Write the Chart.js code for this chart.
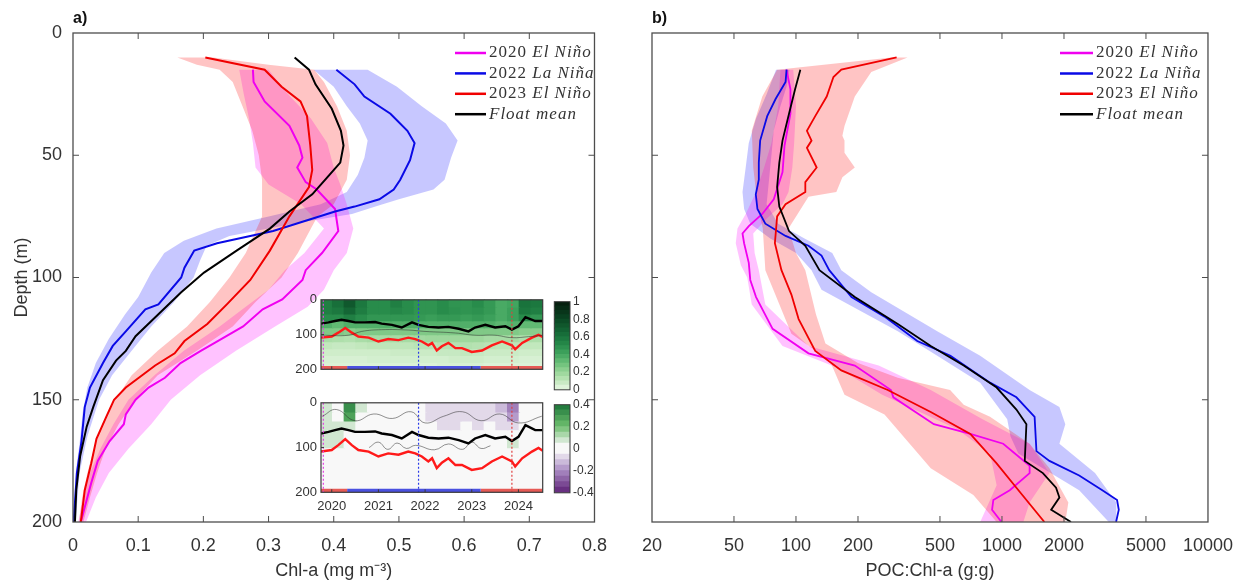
<!DOCTYPE html>
<html>
<head>
<meta charset="utf-8">
<title>Chl-a and POC:Chl-a profiles</title>
<script src="https://cdn.jsdelivr.net/npm/chart.js@4.4.1/dist/chart.umd.min.js"></script>
<style>
  body { margin: 0; background: #fff; }
  #wrap { position: relative; width: 1246px; height: 584px; overflow: hidden; background: #fff; }
  #wrap canvas { position: absolute; }
  .tag { position: absolute; font: bold 16px "Liberation Sans", Arial, sans-serif; color: #111; }
</style>
</head>
<body>
<div id="wrap">
  <canvas id="panelA" width="620" height="584" style="left:0;top:0"></canvas>
  <canvas id="panelB" width="626" height="584" style="left:620px;top:0"></canvas>
  <canvas id="chlMap" width="266" height="112" style="left:285px;top:288px"></canvas>
  <canvas id="anomMap" width="266" height="130" style="left:285px;top:391px"></canvas>
  <canvas id="chlBar" width="50" height="112" style="left:545px;top:288px"></canvas>
  <canvas id="anomBar" width="50" height="112" style="left:545px;top:391px"></canvas>
  <div class="tag" style="left:73px;top:9px">a)</div>
  <div class="tag" style="left:652px;top:9px">b)</div>
</div>
<script>
// ---- axes ----
const depthTicks = [0, 50, 100, 150, 200];
const chlTicks = [0, 0.1, 0.2, 0.3, 0.4, 0.5, 0.6, 0.7, 0.8];
const ratioTicks = [20, 50, 100, 200, 500, 1000, 2000, 5000, 10000];

// ---- legend ----
const legendYears = ['2020 ', '2022 ', '2023 ', ''];
const legendPhases = ['El Niño', 'La Niña', 'El Niño', 'Float mean'];
const seriesColors = ['#f000f0', '#0a0ae6', '#f00000', '#000000'];
const bandColors = ['rgba(255,0,255,0.24)', 'rgba(0,0,255,0.22)', 'rgba(255,0,0,0.23)'];

// ---- panel a: Chl-a profiles, [depth m, mg m-3] ----
const chl2020 = [[15,0.276],[20,0.277],[28,0.294],[38,0.332],[46,0.347],[51,0.352],[55,0.344],[61,0.357],[64,0.374],[72,0.402],[81,0.407],[90,0.382],[97,0.357],[101,0.352],[109,0.321],[113,0.291],[120,0.261],[126,0.222],[130,0.196],[135,0.165],[141,0.141],[145,0.116],[150,0.096],[156,0.081],[160,0.078],[167,0.056],[175,0.038],[184,0.028],[194,0.018],[200,0.012]];
const chl2020Lo = [[15,0.255],[25,0.262],[35,0.27],[45,0.276],[55,0.28],[62,0.30],[70,0.35],[80,0.385],[90,0.355],[97,0.325],[105,0.30],[112,0.265],[120,0.225],[130,0.17],[140,0.125],[150,0.085],[160,0.062],[170,0.042],[180,0.026],[190,0.016],[200,0.008]];
const chl2020Hi = [[15,0.30],[25,0.33],[35,0.365],[45,0.39],[55,0.40],[62,0.41],[70,0.42],[80,0.43],[90,0.42],[97,0.40],[105,0.385],[112,0.36],[120,0.31],[130,0.25],[140,0.195],[150,0.15],[160,0.12],[170,0.085],[180,0.055],[190,0.035],[200,0.02]];

const chl2022 = [[15,0.404],[21,0.432],[26,0.447],[33,0.487],[40,0.513],[45,0.524],[52,0.517],[60,0.502],[64,0.492],[68,0.47],[71,0.432],[73,0.402],[81,0.307],[86,0.221],[89,0.186],[96,0.171],[100,0.166],[111,0.131],[113,0.111],[122,0.081],[128,0.061],[135,0.046],[145,0.026],[153,0.018],[167,0.013],[180,0.006],[200,0.001]];
const chl2022Lo = [[15,0.369],[22,0.40],[30,0.42],[37,0.44],[44,0.452],[51,0.447],[58,0.437],[65,0.42],[70,0.38],[75,0.30],[80,0.22],[85,0.17],[90,0.14],[98,0.12],[108,0.10],[115,0.08],[125,0.055],[135,0.035],[145,0.022],[155,0.015],[168,0.01],[180,0.004],[200,0.0]];
const chl2022Hi = [[15,0.452],[22,0.497],[30,0.535],[37,0.572],[44,0.59],[51,0.58],[60,0.57],[64,0.553],[68,0.50],[71,0.464],[74,0.428],[77,0.36],[80,0.30],[83,0.24],[87,0.205],[93,0.195],[100,0.185],[110,0.155],[120,0.12],[130,0.09],[140,0.06],[150,0.04],[165,0.022],[180,0.01],[200,0.004]];

const chl2023 = [[10,0.203],[15,0.294],[22,0.32],[28,0.349],[34,0.359],[46,0.364],[56,0.367],[63,0.362],[75,0.332],[89,0.302],[101,0.272],[111,0.236],[119,0.206],[126,0.171],[131,0.156],[136,0.126],[141,0.101],[145,0.081],[150,0.063],[157,0.051],[166,0.036],[176,0.028],[187,0.018],[200,0.012]];
const chl2023Lo = [[10,0.16],[13,0.19],[15,0.225],[20,0.245],[30,0.26],[40,0.275],[50,0.285],[60,0.29],[75,0.29],[90,0.265],[100,0.24],[110,0.21],[120,0.175],[130,0.13],[140,0.09],[150,0.065],[160,0.045],[170,0.032],[180,0.022],[190,0.014],[200,0.009]];
const chl2023Hi = [[10,0.215],[13,0.30],[15,0.37],[20,0.385],[30,0.405],[40,0.42],[50,0.425],[60,0.42],[70,0.40],[75,0.375],[80,0.365],[90,0.345],[100,0.32],[110,0.28],[120,0.245],[130,0.19],[140,0.13],[150,0.095],[160,0.07],[170,0.05],[180,0.037],[190,0.026],[200,0.016]];

const chlMean = [[10,0.340],[15,0.362],[21,0.372],[31,0.397],[40,0.411],[46,0.415],[53,0.410],[60,0.387],[66,0.367],[73,0.332],[80,0.302],[89,0.251],[98,0.201],[106,0.166],[115,0.131],[124,0.096],[130,0.081],[134,0.066],[142,0.046],[153,0.031],[161,0.021],[173,0.011],[187,0.005],[200,0.003]];

// ---- panel b: POC:Chl-a profiles, [depth m, g:g] ----
const poc2020 = [[15,90],[23,94],[33,94],[46,88],[57,86],[68,78],[74,68.6],[79,59],[82,55],[86,56],[94,59],[101,60],[108,64],[121,77],[131,115],[136,193],[146,289],[149,297],[160,467],[164,702],[168,1014],[177,1362],[180,1362],[187,1091],[191,908],[195,895],[200,995]];
const poc2020Lo = [[15,84],[30,82],[45,76],[55,70],[65,64],[74,57],[80,52],[86,51],[95,54],[100,58],[111,61],[128,86],[137,160],[148,262],[162,604],[172,875],[185,942],[200,784]];
const poc2020Hi = [[15,97],[30,100],[45,98],[55,96],[65,92],[70,86],[76,72],[82,62],[90,63],[97,66],[111,71],[128,115],[136,252],[146,451],[158,805],[168,1362],[180,1700],[192,1362],[200,1270]];

const poc2022 = [[15,90],[20,89],[27,79.6],[34,72.5],[44,67],[53,66],[60,66],[66,63.8],[72,65],[78,71],[83,89],[87,115],[91,133],[97,145],[108,186],[116,269],[126,388],[132,562],[143,875],[149,1175],[157,1440],[171,1470],[175,1700],[181,2370],[187,3070],[191,3620],[195,3690],[200,3580]];
const poc2022Lo = [[15,80],[25,72],[35,64],[45,59],[55,57],[65,55],[72,56],[78,60],[84,75],[90,100],[97,119],[105,133],[122,312],[132,485],[143,784],[158,1060],[165,1100],[172,1200],[187,2370],[200,3300]];
const poc2022Hi = [[15,93],[22,90],[30,84],[40,78],[50,76],[60,74],[70,72],[78,82],[84,110],[90,150],[97,166],[106,232],[122,485],[132,784],[146,1362],[153,1900],[160,2030],[168,1900],[180,2830],[192,3590],[200,3590]];

const poc2023 = [[10,308],[15,166],[18,152],[26,141],[34,124],[40,113],[44,119],[47,113],[55,126],[61,111],[65,111],[70,89],[75,81],[86,79],[97,85],[107,95],[117,103],[130,124],[138,166],[146,279],[155,451],[164,702],[176,942],[186,1175],[200,1607]];
const poc2023Lo = [[10,290],[15,81],[26,68.6],[40,61],[55,62],[70,65],[80,69],[97,71],[123,95],[134,146],[148,172],[156,269],[178,451],[189,726],[200,942]];
const poc2023Hi = [[10,348],[16,232],[26,193],[38,172],[42,168],[44,172],[49,172],[55,193],[59,168],[65,157],[67,115],[80,92],[90,100],[97,111],[115,125],[127,139],[135,200],[141,312],[146,560],[152,652],[157,875],[168,1362],[178,1700],[192,2100],[200,2030]];

const pocMean = [[15,105],[23,99],[33,92.5],[44,86],[53,83],[63,81],[71,83],[81,92.5],[87,111],[97,130],[108,193],[119,312],[128,451],[136,652],[145,942],[154,1175],[160,1314],[175,1290],[180,1580],[186,1830],[190,1900],[195,1733],[200,2163]];

// ---- inset: float section, 0.25-yr columns x 20-m rows ----
const mapStart = 2019.77, mapEnd = 2024.52;
const yearTicks = [2020, 2021, 2022, 2023, 2024];
const mapDepthTicks = [0, 100, 200];
const gridColumns = ['19Q4','20Q1','20Q2','20Q3','20Q4','21Q1','21Q2','21Q3','21Q4','22Q1','22Q2','22Q3','22Q4','23Q1','23Q2','23Q3','23Q4','24Q1','24Q2'];
const gridDepthEdges = [0, 20, 40, 60, 80, 100, 120, 140, 160, 180, 200];
const chlGrid = [
  [0.55,0.62,0.72,0.58,0.5,0.5,0.55,0.5,0.47,0.47,0.5,0.47,0.47,0.5,0.45,0.38,0.4,0.6,0.58],
  [0.55,0.58,0.66,0.56,0.5,0.5,0.52,0.5,0.47,0.47,0.5,0.48,0.47,0.48,0.45,0.38,0.42,0.58,0.55],
  [0.5,0.5,0.55,0.5,0.46,0.46,0.46,0.46,0.45,0.43,0.45,0.45,0.43,0.45,0.42,0.38,0.42,0.5,0.46],
  [0.36,0.32,0.36,0.36,0.36,0.36,0.36,0.36,0.36,0.36,0.36,0.36,0.36,0.36,0.36,0.33,0.35,0.32,0.32],
  [0.25,0.25,0.23,0.25,0.25,0.25,0.25,0.25,0.25,0.25,0.25,0.25,0.25,0.25,0.25,0.25,0.25,0.23,0.23],
  [0.15,0.14,0.13,0.15,0.16,0.16,0.16,0.16,0.17,0.18,0.18,0.18,0.18,0.18,0.16,0.16,0.16,0.14,0.14],
  [0.09,0.08,0.08,0.09,0.1,0.1,0.1,0.1,0.11,0.11,0.12,0.12,0.13,0.12,0.11,0.1,0.1,0.09,0.09],
  [0.06,0.06,0.06,0.06,0.06,0.06,0.07,0.07,0.07,0.07,0.08,0.08,0.09,0.08,0.07,0.07,0.07,0.06,0.06],
  [0.04,0.04,0.04,0.04,0.05,0.05,0.05,0.05,0.05,0.05,0.05,0.06,0.06,0.06,0.05,0.05,0.05,0.04,0.04],
  [0.03,0.03,0.03,0.03,0.03,0.03,0.03,0.03,0.03,0.03,0.04,0.04,0.04,0.04,0.03,0.03,0.03,0.03,0.03]
];
const anomGrid = [
  [0.06,0.04,0.3,0.06,0.02,0.03,0.02,0,-0.02,-0.06,-0.08,-0.07,-0.08,-0.08,-0.07,-0.12,-0.25,-0.03,0.03],
  [0.06,0.04,0.25,0.04,0.01,0.02,0.01,0,-0.03,-0.06,-0.07,-0.07,-0.06,-0.07,-0.06,-0.1,-0.2,-0.02,0.02],
  [0.07,0.05,0.08,0.03,0.01,0,0,-0.02,-0.03,-0.04,-0.06,-0.06,-0.05,-0.06,-0.04,-0.07,-0.08,0,0.02],
  [0.07,0.06,0.04,0.02,0,0,0,-0.01,-0.02,-0.03,-0.03,-0.03,-0.03,-0.03,-0.02,-0.03,-0.03,0,0.01],
  [0.06,0.06,0.03,0.01,0,0,0,0,0,-0.01,-0.01,-0.01,-0.01,-0.01,0,0,0.06,0,0],
  [0.02,0.02,0.01,0,0,0,0,0,0,0,0,0,0,0,0,0,0.02,0,0],
  [0,0,0,0,0,0,0,0,0,0,0,0,0,0,0,0,0,0,0],
  [0,0,0,0,0,0,0,0,0,0,0,0,0,0,0,0,0,0,0],
  [0,0,0,0,0,0,0,0,0,0,0,0,0,0,0,0,0,0,0],
  [0,0,0,0,0,0,0,0,0,0,0,0,0,0,0,0,0,0,0]
];
const blackTime = [2019.77,2019.93,2020.07,2020.21,2020.36,2020.5,2020.71,2020.93,2021.07,2021.29,2021.5,2021.72,2021.86,2022.07,2022.29,2022.5,2022.72,2022.93,2023.07,2023.29,2023.5,2023.72,2023.86,2024.0,2024.15,2024.36,2024.52];
const blackDepth = [68.6,65,61,57.6,61,65,65,64,68.6,72,79.7,65,72,78,79.7,78,83.4,90.8,79.7,72,79.7,76,85.6,76,50,61,61];
const redTime = [2019.77,2020.0,2020.14,2020.29,2020.43,2020.57,2020.79,2021.0,2021.21,2021.43,2021.64,2021.79,2021.93,2022.07,2022.15,2022.25,2022.36,2022.5,2022.65,2022.79,2023.0,2023.22,2023.43,2023.65,2023.86,2023.93,2024.08,2024.29,2024.43,2024.52];
const redDepth = [109,105.6,94.5,81,94.5,105.6,109,120,113,116,109,113,120,131,124,146,133.7,124,139,139,150,146,131,120,131,142.5,124,109,101,107];
const contourTime = [2019.78,2020.36,2020.64,2021.07,2021.64,2022.0,2022.65,2023.07,2023.5,2023.86,2024.22,2024.52];
const contourDepth = [102,102,91,86,87,91,95.5,102,102,109,106,102];
// zero-anomaly contours of the lower section
const zeroUpperTime = [2019.8,2020.1,2020.5,2020.9,2021.3,2021.7,2022.0,2022.4,2022.8,2023.2,2023.6,2024.0,2024.5];
const zeroUpperDepth = [30,15,40,25,35,20,45,30,20,40,25,45,30];
const zeroLowerTime = [2020.8,2021.0,2021.2,2021.4,2021.6,2021.8,2022.2,2022.5,2022.8,2023.0,2023.2,2023.4];
const zeroLowerDepth = [100,88,104,90,102,95,105,92,104,88,102,96];
const eventYears = [2019.82, 2021.86, 2023.86];
const eventColors = ['#e040e0', '#2a3ae8', '#e04040'];
const ensoEdges = [2019.77, 2020.33, 2023.19, 2024.52];
const ensoColors = ['#e65a55', '#4a50e0', '#e65a55'];
const chlBarEdges = [0,0.05,0.1,0.15,0.2,0.25,0.3,0.35,0.4,0.45,0.5,0.55,0.6,0.65,0.7,0.75,0.8,0.85,0.9,0.95,1];
const chlBarTicks = [0, 0.2, 0.4, 0.6, 0.8, 1];
const anomBarEdges = [-0.4,-0.35,-0.3,-0.25,-0.2,-0.15,-0.1,-0.05,0,0.05,0.1,0.15,0.2,0.25,0.3,0.35,0.4];
const anomBarTicks = [-0.4, -0.2, 0, 0.2, 0.4];

// ---- colour maps ----
const greenStops = [[0,[232,247,228]],[0.1,[190,230,185]],[0.2,[150,212,150]],[0.3,[105,190,120]],[0.4,[65,165,95]],[0.5,[40,140,75]],[0.6,[25,115,60]],[0.8,[10,70,35]],[1,[5,25,12]]];
const anomStops = [[-0.4,[95,35,120]],[-0.2,[170,140,195]],[-0.025,[248,248,248]],[0.025,[248,248,248]],[0.2,[110,190,110]],[0.4,[25,115,55]]];

const rgb = c => `rgb(${c.map(Math.round).join(',')})`;
function ramp(stops, v) {
  if (v <= stops[0][0]) return rgb(stops[0][1]);
  for (let i = 1; i < stops.length; i++) {
    if (v <= stops[i][0]) {
      const [v0, c0] = stops[i - 1];
      const [v1, c1] = stops[i];
      const f = (v - v0) / (v1 - v0);
      return rgb(c0.map((c, k) => c + (c1[k] - c) * f));
    }
  }
  return rgb(stops[stops.length - 1][1]);
}
const chlColor = v => ramp(greenStops, v);
// discrete levels, like the colour bar
function anomColor(v) {
  let i = anomBarEdges.findIndex((e, k) => k < anomBarEdges.length - 1 && v >= e && v < anomBarEdges[k + 1]);
  if (i < 0) i = v < 0 ? 0 : anomBarEdges.length - 2;
  return ramp(anomStops, (anomBarEdges[i] + anomBarEdges[i + 1]) / 2);
}

// ---- helpers ----
const AXIS_FONT = { family: '"Liberation Sans", Arial, sans-serif', size: 18 };
const SMALL_FONT = { family: '"Liberation Sans", Arial, sans-serif', size: 13 };
const TEXT = '#333';

const toPts = pairs => pairs.map(([d, v]) => ({ x: v, y: d }));
const polygon = (lo, hi) => toPts(lo).concat(toPts(hi.slice().reverse()));

function band(lo, hi, color) {
  return { data: polygon(lo, hi), fill: 'shape', backgroundColor: color,
           borderWidth: 0, borderColor: 'rgba(0,0,0,0)', pointRadius: 0, order: 2 };
}
function profile(pairs, color, width) {
  return { data: toPts(pairs), borderColor: color, borderWidth: width,
           pointRadius: 0, fill: false, tension: 0, order: 1 };
}
const setTicks = values => axis => { axis.ticks = values.map(v => ({ value: v })); };

// MATLAB-style box with inward ticks on all four sides
const matlabBox = {
  id: 'matlabBox',
  afterDraw(chart, args, opts) {
    const { ctx, chartArea: a } = chart;
    const xs = chart.scales[opts.xId || 'x'];
    const ys = chart.scales[opts.yId || 'y'];
    const len = opts.tick || 0;
    ctx.save();
    ctx.strokeStyle = opts.color || '#4d4d4d';
    ctx.lineWidth = opts.width || 1.3;
    ctx.strokeRect(a.left, a.top, a.right - a.left, a.bottom - a.top);
    if (len > 0) {
      ctx.lineWidth = 1;
      ctx.beginPath();
      xs.ticks.forEach(t => {
        const px = xs.getPixelForValue(t.value);
        if (px <= a.left + 1 || px >= a.right - 1) return;
        ctx.moveTo(px, a.bottom); ctx.lineTo(px, a.bottom - len);
        if (opts.mirror !== false) { ctx.moveTo(px, a.top); ctx.lineTo(px, a.top + len); }
      });
      ys.ticks.forEach(t => {
        const py = ys.getPixelForValue(t.value);
        if (py <= a.top + 1 || py >= a.bottom - 1) return;
        ctx.moveTo(a.left, py); ctx.lineTo(a.left + len, py);
        if (opts.mirror !== false) { ctx.moveTo(a.right, py); ctx.lineTo(a.right - len, py); }
      });
      ctx.stroke();
    }
    ctx.restore();
  }
};

// legend with an upright year and an italic phase name
const profileLegend = {
  id: 'profileLegend',
  afterDraw(chart, args, opts) {
    const ctx = chart.ctx;
    ctx.save();
    ctx.textBaseline = 'middle';
    ctx.fillStyle = TEXT;
    if ('letterSpacing' in ctx) ctx.letterSpacing = '1px';
    legendPhases.forEach((phase, i) => {
      const y = opts.y + i * opts.dy;
      ctx.strokeStyle = seriesColors[i];
      ctx.lineWidth = 2.5;
      ctx.beginPath();
      ctx.moveTo(opts.x, y);
      ctx.lineTo(opts.x + opts.len, y);
      ctx.stroke();
      let x = opts.x + opts.len + 3;
      ctx.font = '17px "Liberation Serif", "Times New Roman", serif';
      ctx.fillText(legendYears[i], x, y);
      x += ctx.measureText(legendYears[i]).width;
      ctx.font = 'italic 17px "Liberation Serif", "Times New Roman", serif';
      ctx.fillText(phase, x, y);
    });
    ctx.restore();
  }
};

function depthAxis(withLabels) {
  return {
    type: 'linear', reverse: true, min: 0, max: 200,
    afterBuildTicks: setTicks(depthTicks),
    afterFit: ax => { ax.width = withLabels ? 73 : 32; },
    grid: { display: false, drawTicks: false }, border: { display: false },
    ticks: { display: withLabels, padding: 11, font: AXIS_FONT, color: TEXT },
    title: { display: withLabels, text: 'Depth (m)', font: AXIS_FONT, color: TEXT, padding: { top: 11 } }
  };
}

// ---- panel a ----
new Chart(document.getElementById('panelA'), {
  type: 'line',
  data: {
    datasets: [
      band(chl2023Lo, chl2023Hi, bandColors[2]),
      band(chl2020Lo, chl2020Hi, bandColors[0]),
      band(chl2022Lo, chl2022Hi, bandColors[1]),
      profile(chlMean, seriesColors[3], 2),
      profile(chl2023, seriesColors[2], 2),
      profile(chl2022, seriesColors[1], 2),
      profile(chl2020, seriesColors[0], 2)
    ]
  },
  options: {
    responsive: false, animation: false,
    layout: { padding: { top: 33, right: 15, bottom: 0, left: 0 } },
    plugins: {
      legend: { display: false }, tooltip: { enabled: false },
      matlabBox: { tick: 6 },
      profileLegend: { x: 455, y: 53, dy: 20.4, len: 31 }
    },
    scales: {
      x: {
        type: 'linear', min: 0, max: 0.8,
        afterBuildTicks: setTicks(chlTicks),
        afterFit: ax => { ax.height = 62; },
        grid: { display: false, drawTicks: false }, border: { display: false },
        ticks: { padding: 13, font: AXIS_FONT, color: TEXT, maxRotation: 0, callback: v => String(v) },
        title: { display: true, text: 'Chl-a (mg m⁻³)', font: AXIS_FONT, color: TEXT, padding: { bottom: 2 } }
      },
      y: depthAxis(true)
    }
  },
  plugins: [matlabBox, profileLegend]
});

// ---- panel b ----
new Chart(document.getElementById('panelB'), {
  type: 'line',
  data: {
    datasets: [
      band(poc2023Lo, poc2023Hi, bandColors[2]),
      band(poc2020Lo, poc2020Hi, bandColors[0]),
      band(poc2022Lo, poc2022Hi, bandColors[1]),
      profile(pocMean, seriesColors[3], 1.8),
      profile(poc2023, seriesColors[2], 1.8),
      profile(poc2022, seriesColors[1], 1.8),
      profile(poc2020, seriesColors[0], 1.8)
    ]
  },
  options: {
    responsive: false, animation: false,
    layout: { padding: { top: 33, right: 33, bottom: 0, left: 0 } },
    plugins: {
      legend: { display: false }, tooltip: { enabled: false },
      matlabBox: { tick: 6 },
      profileLegend: { x: 440, y: 53, dy: 20.4, len: 33 }
    },
    scales: {
      x: {
        type: 'logarithmic', min: 20, max: 10000,
        afterBuildTicks: setTicks(ratioTicks),
        afterFit: ax => { ax.height = 62; },
        grid: { display: false, drawTicks: false }, border: { display: false },
        ticks: { padding: 13, font: AXIS_FONT, color: TEXT, maxRotation: 0, autoSkip: false, callback: v => String(v) },
        title: { display: true, text: 'POC:Chl-a (g:g)', font: AXIS_FONT, color: TEXT, padding: { bottom: 2 } }
      },
      y: depthAxis(false)
    }
  },
  plugins: [matlabBox, profileLegend]
});

// ---- inset sections ----
function seriesPts(times, depths) {
  return times.map((t, i) => ({ x: t, y: depths[i] }));
}
function insetLine(pts, color, width, dash) {
  return { type: 'line', xAxisID: 'xt', yAxisID: 'y', data: pts, borderColor: color,
           borderWidth: width, borderDash: dash || [], pointRadius: 0, fill: false, order: 1 };
}
function insetSection(canvasId, grid, colorOf, withYears, contours) {
  const cells = grid.map((row, r) => ({
    type: 'bar', xAxisID: 'xc', yAxisID: 'y', order: 5,
    data: row.map(() => [gridDepthEdges[r], gridDepthEdges[r + 1]]),
    backgroundColor: row.map(colorOf),
    borderWidth: 0, grouped: false, barPercentage: 1, categoryPercentage: 1, inflateAmount: 0.7
  }));
  const lines = contours.map(([t, d]) => {
    const c = insetLine(seriesPts(t, d), 'rgba(40,40,40,0.5)', 1);
    c.tension = 0.45;
    return c;
  });
  eventYears.forEach((t, i) => lines.push(insetLine([{ x: t, y: 0 }, { x: t, y: 200 }], eventColors[i], 1.2, [2, 2])));
  lines.push(insetLine(seriesPts(blackTime, blackDepth), '#000', 2.4));
  lines.push(insetLine(seriesPts(redTime, redDepth), '#ff1a1a', 2.4));
  ensoColors.forEach((c, i) => {
    const seg = insetLine([{ x: ensoEdges[i], y: 197.5 }, { x: ensoEdges[i + 1], y: 197.5 }], c, 5);
    seg.borderCapStyle = 'butt';
    lines.push(seg);
  });
  const h = withYears ? 130 : 112;
  new Chart(document.getElementById(canvasId), {
    type: 'bar',
    data: { labels: gridColumns, datasets: cells.concat(lines) },
    options: {
      responsive: false, animation: false,
      layout: { padding: { top: 11, right: 8.3, bottom: withYears ? 8.7 : h - 101.3, left: 0 } },
      plugins: { legend: { display: false }, tooltip: { enabled: false },
                 matlabBox: { xId: 'xt', yId: 'y', tick: 3, mirror: false, color: '#3a3a3a', width: 1.2 } },
      scales: {
        xc: { type: 'category', display: false, offset: true },
        xt: {
          type: 'linear', min: mapStart, max: mapEnd, position: 'bottom', display: withYears, offset: false,
          afterBuildTicks: setTicks(yearTicks),
          afterFit: ax => { ax.height = 20; },
          grid: { display: false, drawTicks: false, offset: false }, border: { display: false },
          ticks: { padding: 6, font: SMALL_FONT, color: TEXT, maxRotation: 0, autoSkip: false, callback: v => String(v) }
        },
        y: {
          type: 'linear', reverse: true, min: 0, max: 200,
          afterBuildTicks: setTicks(mapDepthTicks),
          afterFit: ax => { ax.width = 36; },
          grid: { display: false, drawTicks: false }, border: { display: false },
          ticks: { padding: 4, font: SMALL_FONT, color: TEXT }
        }
      }
    },
    plugins: [matlabBox]
  });
}
insetSection('chlMap', chlGrid, chlColor, false, [[contourTime, contourDepth]]);
insetSection('anomMap', anomGrid, anomColor, true, [[zeroUpperTime, zeroUpperDepth], [zeroLowerTime, zeroLowerDepth]]);

// ---- colour bars ----
function colorBar(canvasId, edges, colorOf, tickValues) {
  const steps = edges.slice(0, -1).map((lo, i) => ({
    data: [[lo, edges[i + 1]]], backgroundColor: colorOf((lo + edges[i + 1]) / 2),
    borderWidth: 0, grouped: false, barPercentage: 1, categoryPercentage: 1, inflateAmount: 0.6
  }));
  new Chart(document.getElementById(canvasId), {
    type: 'bar',
    data: { labels: [''], datasets: steps },
    options: {
      responsive: false, animation: false,
      layout: { padding: { top: 13.7, right: 0, bottom: 10, left: 9.3 } },
      plugins: { legend: { display: false }, tooltip: { enabled: false },
                 matlabBox: { tick: 0, color: '#3a3a3a', width: 1 } },
      scales: {
        x: { display: false, offset: true },
        y: {
          type: 'linear', position: 'right', min: edges[0], max: edges[edges.length - 1],
          afterBuildTicks: setTicks(tickValues),
          afterFit: ax => { ax.width = 25; },
          grid: { display: false, drawTicks: false }, border: { display: false },
          ticks: { padding: 3, font: { family: SMALL_FONT.family, size: 12 }, color: TEXT, callback: v => String(v) }
        }
      }
    },
    plugins: [matlabBox]
  });
}
colorBar('chlBar', chlBarEdges, chlColor, chlBarTicks);
colorBar('anomBar', anomBarEdges, anomColor, anomBarTicks);
</script>
</body>
</html>
